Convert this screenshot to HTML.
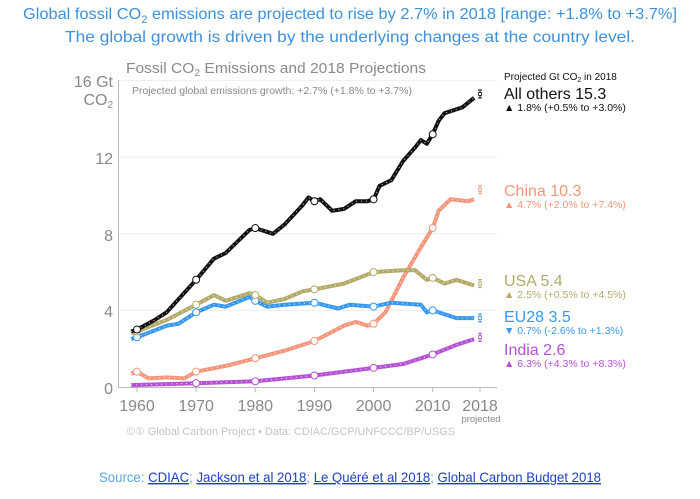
<!DOCTYPE html>
<html><head><meta charset="utf-8"><style>
body{margin:0;background:#fff;width:700px;height:494px;overflow:hidden;font-family:"Liberation Sans",sans-serif}
</style></head><body>
<svg id="s" width="700" height="494" xmlns="http://www.w3.org/2000/svg" font-family="Liberation Sans, sans-serif">
<text x="350" y="19" text-anchor="middle" font-size="16" fill="#3d91dc" textLength="654" lengthAdjust="spacingAndGlyphs">Global fossil CO<tspan font-size="11" dy="4">2</tspan><tspan dy="-4"> emissions are projected to rise by 2.7% in 2018 [range: +1.8% to +3.7%]</tspan></text>
<text x="350" y="42" text-anchor="middle" font-size="16" fill="#3d91dc" textLength="570" lengthAdjust="spacingAndGlyphs">The global growth is driven by the underlying changes at the country level.</text>
<text x="126" y="73" font-size="15" fill="#8a8a8a" textLength="300" lengthAdjust="spacingAndGlyphs">Fossil CO<tspan font-size="10" dy="3">2</tspan><tspan dy="-3"> Emissions and 2018 Projections</tspan></text>
<text x="132" y="94" font-size="10" fill="#8a8a8a" textLength="280" lengthAdjust="spacingAndGlyphs">Projected global emissions growth: +2.7% (+1.8% to +3.7%)</text>
<g id="grid" stroke="#eeeeee" stroke-width="1"></g>
<line x1="118.5" y1="80" x2="118.5" y2="388" stroke="#bbb"/>
<line x1="118" y1="387.5" x2="497" y2="387.5" stroke="#bbb"/>
<g font-size="16" fill="#888" text-anchor="end">
<text x="113" y="87">16 Gt</text>
<text x="113" y="105">CO<tspan font-size="10" dy="3">2</tspan></text>
<text x="113" y="164">12</text>
<text x="113" y="241">8</text>
<text x="113" y="317">4</text>
<text x="113" y="394">0</text>
</g>
<g id="xt" font-size="16" fill="#888" text-anchor="middle"></g>
<text x="481" y="422" font-size="9.5" fill="#888" text-anchor="middle">projected</text>
<text x="127" y="435" font-size="11" fill="#c4c4c4" textLength="328" lengthAdjust="spacingAndGlyphs">©① Global Carbon Project  •  Data: CDIAC/GCP/UNFCCC/BP/USGS</text>
<g id="lines"></g>
<text x="504" y="80" font-size="10" fill="#111">Projected Gt CO<tspan font-size="7" dy="2">2</tspan><tspan dy="-2"> in 2018</tspan></text>
<text x="504" y="99" font-size="16" fill="#111">All others 15.3</text>
<text x="504" y="111" font-size="10.5" fill="#111">▲ 1.8% (+0.5% to +3.0%)</text>
<text x="504" y="196" font-size="16" fill="#f4967b">China 10.3</text>
<text x="504" y="208" font-size="10.5" fill="#f4967b">▲ 4.7% (+2.0% to +7.4%)</text>
<text x="504" y="286" font-size="16" fill="#b3aa6a">USA 5.4</text>
<text x="504" y="298" font-size="10.5" fill="#b3aa6a">▲ 2.5% (+0.5% to +4.5%)</text>
<text x="504" y="322" font-size="16" fill="#3798f0">EU28 3.5</text>
<text x="504" y="334" font-size="10.5" fill="#3798f0">▼ 0.7% (-2.6% to +1.3%)</text>
<text x="504" y="355" font-size="16" fill="#b552d6">India 2.6</text>
<text x="504" y="367" font-size="10.5" fill="#b552d6">▲ 6.3% (+4.3% to +8.3%)</text>
<text x="350" y="482" text-anchor="middle" font-size="14" fill="#5ca6e0" textLength="502" lengthAdjust="spacingAndGlyphs">Source: <tspan fill="#1b3fc8" text-decoration="underline">CDIAC</tspan>; <tspan fill="#1b3fc8" text-decoration="underline">Jackson et al 2018</tspan>; <tspan fill="#1b3fc8" text-decoration="underline">Le Quéré et al 2018</tspan>; <tspan fill="#1b3fc8" text-decoration="underline">Global Carbon Budget 2018</tspan></text>
</svg>
<script>
var NS="http://www.w3.org/2000/svg";
function X(y){return 137+(y-1960)*5.914;}
function Y(v){return 387-v*19.15;}
function el(t,a,p){var e=document.createElementNS(NS,t);for(var k in a)e.setAttribute(k,a[k]);document.getElementById(p).appendChild(e);return e;}
[4,8,12,16].forEach(function(v){el('line',{x1:119,x2:497,y1:Y(v),y2:Y(v)},'grid');});
[1960,1970,1980,1990,2000,2010,2018].forEach(function(y){var t=el('text',{x:X(y),y:411},'xt');t.textContent=y;el('line',{x1:X(y),x2:X(y),y1:387,y2:392,stroke:'#bbb'},'grid');});
var S=[
['#b552d6',[[1959,0.1],[1970,0.2],[1980,0.3],[1990,0.6],[2000,1.0],[2005,1.2],[2008,1.5],[2010,1.7],[2014,2.2],[2017,2.5]],2.6],
['#f4967b',[[1959,0.7],[1960,0.8],[1962,0.45],[1965,0.5],[1968,0.45],[1970,0.8],[1975,1.1],[1980,1.5],[1985,1.9],[1990,2.4],[1995,3.2],[1997,3.4],[1999,3.2],[2000,3.3],[2002,3.9],[2005,5.7],[2008,7.3],[2010,8.3],[2011,9.2],[2013,9.8],[2016,9.7],[2017,9.8]],10.3],
['#3798f0',[[1959,2.5],[1960,2.6],[1965,3.2],[1967,3.3],[1970,3.9],[1973,4.3],[1975,4.2],[1979,4.7],[1980,4.5],[1982,4.2],[1985,4.3],[1990,4.4],[1994,4.1],[1996,4.3],[2000,4.2],[2003,4.4],[2008,4.3],[2009,3.9],[2010,4.0],[2014,3.6],[2017,3.6]],3.6],
['#b3aa6a',[[1959,2.8],[1960,2.9],[1965,3.5],[1970,4.3],[1973,4.8],[1975,4.5],[1979,4.9],[1980,4.8],[1982,4.4],[1985,4.6],[1988,5.0],[1990,5.1],[1995,5.4],[2000,6.0],[2005,6.1],[2007,6.1],[2009,5.6],[2010,5.7],[2012,5.4],[2014,5.6],[2017,5.3]],5.4],
['#111111',[[1959,2.9],[1960,3.0],[1963,3.5],[1965,3.9],[1970,5.6],[1973,6.7],[1975,7.0],[1977,7.6],[1979,8.2],[1980,8.3],[1983,8.0],[1985,8.5],[1988,9.5],[1989,9.9],[1990,9.7],[1991,9.8],[1993,9.2],[1995,9.3],[1997,9.7],[1999,9.7],[2000,9.8],[2001,10.5],[2003,10.8],[2005,11.8],[2007,12.5],[2008,12.9],[2009,12.7],[2010,13.2],[2011,13.9],[2012,14.3],[2015,14.6],[2017,15.1]],15.3]
];
S.forEach(function(s){
 var d=s[1].map(function(p,i){return (i?'L':'M')+X(p[0]).toFixed(1)+' '+Y(p[1]).toFixed(1);}).join('');
 el('path',{d:d,fill:'none',stroke:s[0],'stroke-width':4,'stroke-linejoin':'round'},'lines');
 el('path',{d:d,fill:'none',stroke:'#fff','stroke-width':1,'stroke-dasharray':'1 4',opacity:0.8},'lines');
 s[1].forEach(function(p){if(p[0]%10==0)el('circle',{cx:X(p[0]),cy:Y(p[1]),r:3.5,fill:'#fff',stroke:s[0],'stroke-width':1},'lines');});
 var x=X(2018),y=Y(s[2]);
 el('path',{d:'M'+(x-2)+' '+(y-4)+'h4M'+x+' '+(y-4)+'v8M'+(x-2)+' '+(y+4)+'h4',stroke:s[0],'stroke-width':1,fill:'none'},'lines');
 el('rect',{x:x-1.5,y:y-1.5,width:3,height:3,fill:'#fff',stroke:s[0],'stroke-width':0.8},'lines');
});
</script>
</body></html>
